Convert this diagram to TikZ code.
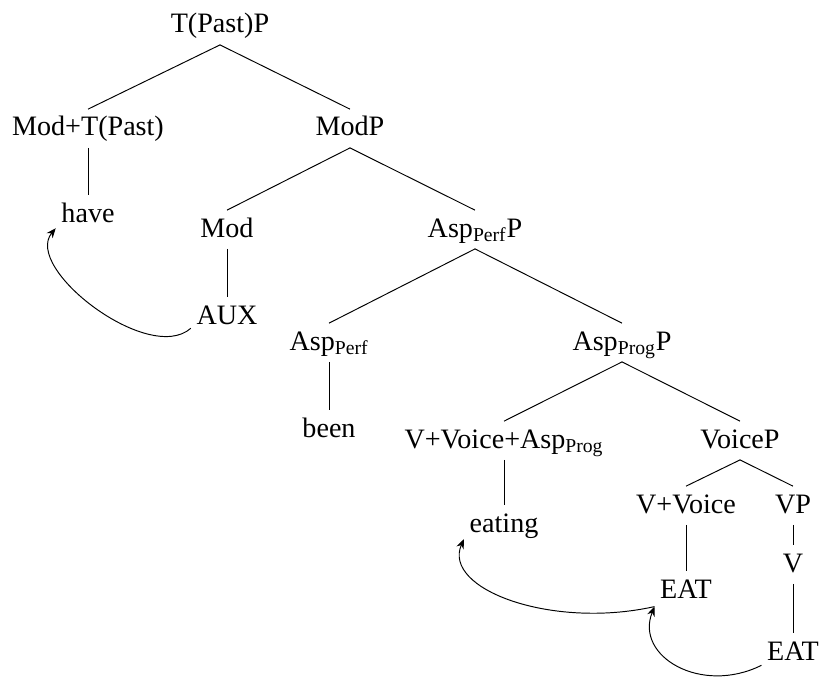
\documentclass[tikz,border=0pt]{standalone}
\usepackage{fontspec}
\setmainfont{Liberation Serif}
\usetikzlibrary{arrows.meta}

\begin{document}
\begin{tikzpicture}[x=0.02cm,y=-0.02cm,line width=0.55pt,
  cat/.style={anchor=base,inner sep=3pt,text height=12pt,text depth=3.5pt,font=\fontsize{16}{19}\selectfont},
  headmove/.style={-{Stealth[length=5.5pt,width=4.5pt]}}]
  \useasboundingbox (0,0) rectangle (821,682);

  % Categories
  \node[cat] (tp) at (220,33) {T(Past)P};
  \node[cat] (modt) at (88,136) {Mod+T(Past)};
  \node[cat] (modp) at (350,136) {ModP};
  \node[cat] (have) at (88,222) {have};
  \node[cat] (mod) at (227,237) {Mod};
  \node[cat] (perfp) at (475,237) {Asp\textsubscript{Perf}P};
  \node[cat] (aux) at (227,324) {AUX};
  \node[cat] (perf) at (329,350) {Asp\textsubscript{Perf}};
  \node[cat] (progp) at (622,350) {Asp\textsubscript{Prog}P};
  \node[cat] (been) at (329,437) {been};
  \node[cat] (vva) at (504,448) {V+Voice+Asp\textsubscript{Prog}};
  \node[cat] (voicep) at (740,448) {VoiceP};
  \node[cat] (eating) at (504,532) {eating};
  \node[cat] (vv) at (686,513) {V+Voice};
  \node[cat] (vp) at (793,513) {VP};
  \node[cat] (v) at (793,572) {V};
  \node[cat] (eat1) at (686,598) {EAT};
  \node[cat] (eat2) at (793,660) {EAT};

  % Branches
  \draw (tp.south) -- (modt.north);
  \draw (tp.south) -- (modp.north);
  \draw (modt.south) -- (have.north);
  \draw (modp.south) -- (mod.north);
  \draw (modp.south) -- (perfp.north);
  \draw (mod.south) -- (aux.north);
  \draw (perfp.south) -- (perf.north);
  \draw (perfp.south) -- (progp.north);
  \draw (perf.south) -- (been.north);
  \draw (progp.south) -- (vva.north);
  \draw (progp.south) -- (voicep.north);
  \draw (vva.south) -- (eating.north);
  \draw (voicep.south) -- (vv.north);
  \draw (voicep.south) -- (vp.north);
  \draw (vv.south) -- (eat1.north);
  \draw (vp.south) -- (v.north);
  \draw (v.south) -- (eat2.north);

  % Head movement
  \draw[headmove] (aux.-162) .. controls +(-42,37) and +(-33,40) .. (have.-157);
  \draw[headmove] (eat1.-153) .. controls +(-103,23) and +(-22,50) .. (eating.-160);
  \draw[headmove] (eat2.-158) .. controls +(-60,30) and +(-20,50) .. (eat1.-153);
\end{tikzpicture}
\end{document}
